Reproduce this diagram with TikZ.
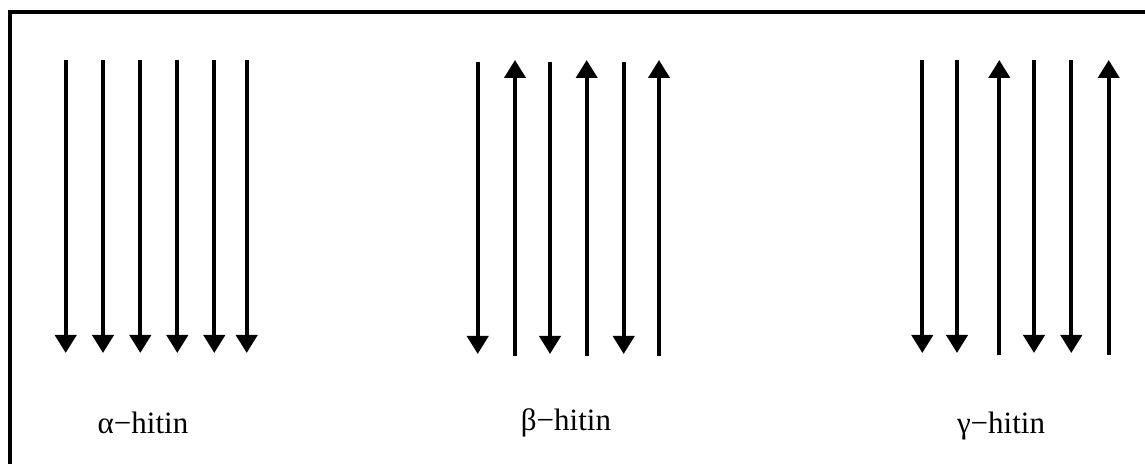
\documentclass[tikz,border=0pt]{standalone}
\usepackage{fontspec}
\setmainfont{Liberation Serif}
\usetikzlibrary{arrows.meta}
\tikzset{
  strand/.style={line width=2pt, -{Triangle[width=10.5pt,length=9pt]}},
  frame/.style={line width=2pt},
  lbl/.style={font=\fontsize{15.5}{18}\selectfont, anchor=base, inner sep=0pt}
}
\begin{document}
\begin{tikzpicture}[x=0.5pt,y=-0.5pt]
\useasboundingbox (0,0) rectangle (1145,464);
\draw[frame] (10.3,464) -- (10.3,11.7) -- (1145,11.7);

% alpha: all strands down
\foreach \x in {65.7,103,140.3,177.3,214.3,246.7}
  \draw[strand] (\x,60) -- (\x,353);

% beta: alternating
\foreach \x in {477.7,550,623.7}
  \draw[strand] (\x,62) -- (\x,354);
\foreach \x in {515,586.7,659}
  \draw[strand] (\x,356) -- (\x,60);

% gamma: two down, one up
\foreach \x in {922.3,957,1034,1071.3}
  \draw[strand] (\x,60) -- (\x,353);
\foreach \x in {999.3,1108.7}
  \draw[strand] (\x,355) -- (\x,60);

\node[lbl] (alpha) at (143,433) {α−hitin};
\node[lbl] (beta) at (566,430) {β−hitin};
\node[lbl] (gamma) at (1001,433) {γ−hitin};
\end{tikzpicture}
\end{document}
